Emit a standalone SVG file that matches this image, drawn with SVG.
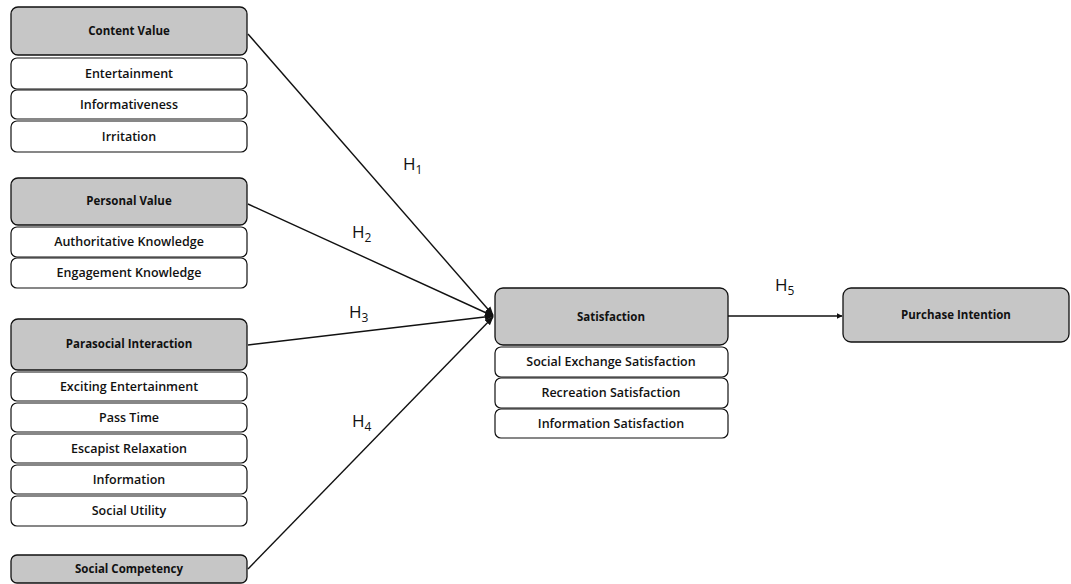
<svg xmlns="http://www.w3.org/2000/svg" width="1071" height="584" viewBox="0 0 1071 584">
<defs>
<style>
.hd{fill:#c6c6c6;stroke:#111;stroke-width:1.3}
.sb{fill:#fff;stroke:#111;stroke-width:1.2}
.ht{font-family:"Open Sans","Liberation Sans",sans-serif;font-size:11.5px;font-weight:700;fill:#111;text-anchor:middle}
.st{font-family:"Open Sans","Liberation Sans",sans-serif;font-size:12.5px;font-weight:600;fill:#111;text-anchor:middle}
.cn{stroke:#111;stroke-width:1.4;fill:none}
.hl{font-family:"Open Sans","Liberation Sans",sans-serif;font-size:17px;font-weight:500;fill:#111}
.hs{font-size:12px}
</style>
<marker id="ah" viewBox="0 0 10 10" refX="9" refY="5" markerWidth="6" markerHeight="6" orient="auto" markerUnits="userSpaceOnUse">
<path d="M0,0 L10,5 L0,10 z" fill="#111"/>
</marker>
<marker id="ah2" viewBox="0 0 10 10" refX="9" refY="5" markerWidth="9" markerHeight="9" orient="auto" markerUnits="userSpaceOnUse">
<path d="M0,1 L10,5 L0,9 z" fill="#111"/>
</marker>
</defs>
<rect width="1071" height="584" fill="#fff"/>

<g id="connectors">
<line class="cn" x1="248" y1="34" x2="493" y2="315" marker-end="url(#ah2)"/>
<line class="cn" x1="248" y1="204" x2="493" y2="316" marker-end="url(#ah2)"/>
<line class="cn" x1="248" y1="345" x2="493" y2="316" marker-end="url(#ah2)"/>
<line class="cn" x1="248" y1="569" x2="493" y2="317" marker-end="url(#ah2)"/>
<line class="cn" x1="728" y1="316" x2="842" y2="316" marker-end="url(#ah)"/>
</g>

<g id="labels">
<text class="hl" x="403" y="170">H<tspan class="hs" dy="4">1</tspan></text>
<text class="hl" x="352" y="238">H<tspan class="hs" dy="4">2</tspan></text>
<text class="hl" x="349" y="318">H<tspan class="hs" dy="4">3</tspan></text>
<text class="hl" x="352" y="427">H<tspan class="hs" dy="4">4</tspan></text>
<text class="hl" x="775" y="291">H<tspan class="hs" dy="4">5</tspan></text>
</g>

<g id="content-value">
<rect class="hd" x="11" y="7" width="236" height="48" rx="7"/>
<text class="ht" x="129" y="35">Content Value</text>
<rect class="sb" x="11" y="58" width="236" height="31" rx="6"/>
<text class="st" x="129" y="78">Entertainment</text>
<rect class="sb" x="11" y="90" width="236" height="29" rx="6"/>
<text class="st" x="129" y="109">Informativeness</text>
<rect class="sb" x="11" y="121" width="236" height="31" rx="6"/>
<text class="st" x="129" y="141">Irritation</text>
</g>

<g id="personal-value">
<rect class="hd" x="11" y="178" width="236" height="47" rx="7"/>
<text class="ht" x="129" y="205">Personal Value</text>
<rect class="sb" x="11" y="227" width="236" height="30" rx="6"/>
<text class="st" x="129" y="246">Authoritative Knowledge</text>
<rect class="sb" x="11" y="258" width="236" height="30" rx="6"/>
<text class="st" x="129" y="277">Engagement Knowledge</text>
</g>

<g id="parasocial-interaction">
<rect class="hd" x="11" y="319" width="236" height="51" rx="7"/>
<text class="ht" x="129" y="348">Parasocial Interaction</text>
<rect class="sb" x="11" y="372" width="236" height="29" rx="6"/>
<text class="st" x="129" y="391">Exciting Entertainment</text>
<rect class="sb" x="11" y="403" width="236" height="29" rx="6"/>
<text class="st" x="129" y="422">Pass Time</text>
<rect class="sb" x="11" y="434" width="236" height="29" rx="6"/>
<text class="st" x="129" y="453">Escapist Relaxation</text>
<rect class="sb" x="11" y="465" width="236" height="29" rx="6"/>
<text class="st" x="129" y="484">Information</text>
<rect class="sb" x="11" y="496" width="236" height="30" rx="6"/>
<text class="st" x="129" y="515">Social Utility</text>
</g>

<g id="social-competency">
<rect class="hd" x="11" y="555" width="236" height="28" rx="6"/>
<text class="ht" x="129" y="573">Social Competency</text>
</g>

<g id="satisfaction">
<rect class="hd" x="495" y="288" width="233" height="57" rx="8"/>
<text class="ht" x="611" y="321">Satisfaction</text>
<rect class="sb" x="495" y="347" width="233" height="30" rx="6"/>
<text class="st" x="611" y="366">Social Exchange Satisfaction</text>
<rect class="sb" x="495" y="378" width="233" height="30" rx="6"/>
<text class="st" x="611" y="397">Recreation Satisfaction</text>
<rect class="sb" x="495" y="409" width="233" height="29" rx="6"/>
<text class="st" x="611" y="428">Information Satisfaction</text>
</g>

<g id="purchase-intention">
<rect class="hd" x="843" y="288" width="226" height="54" rx="8"/>
<text class="ht" x="956" y="319">Purchase Intention</text>
</g>
</svg>
